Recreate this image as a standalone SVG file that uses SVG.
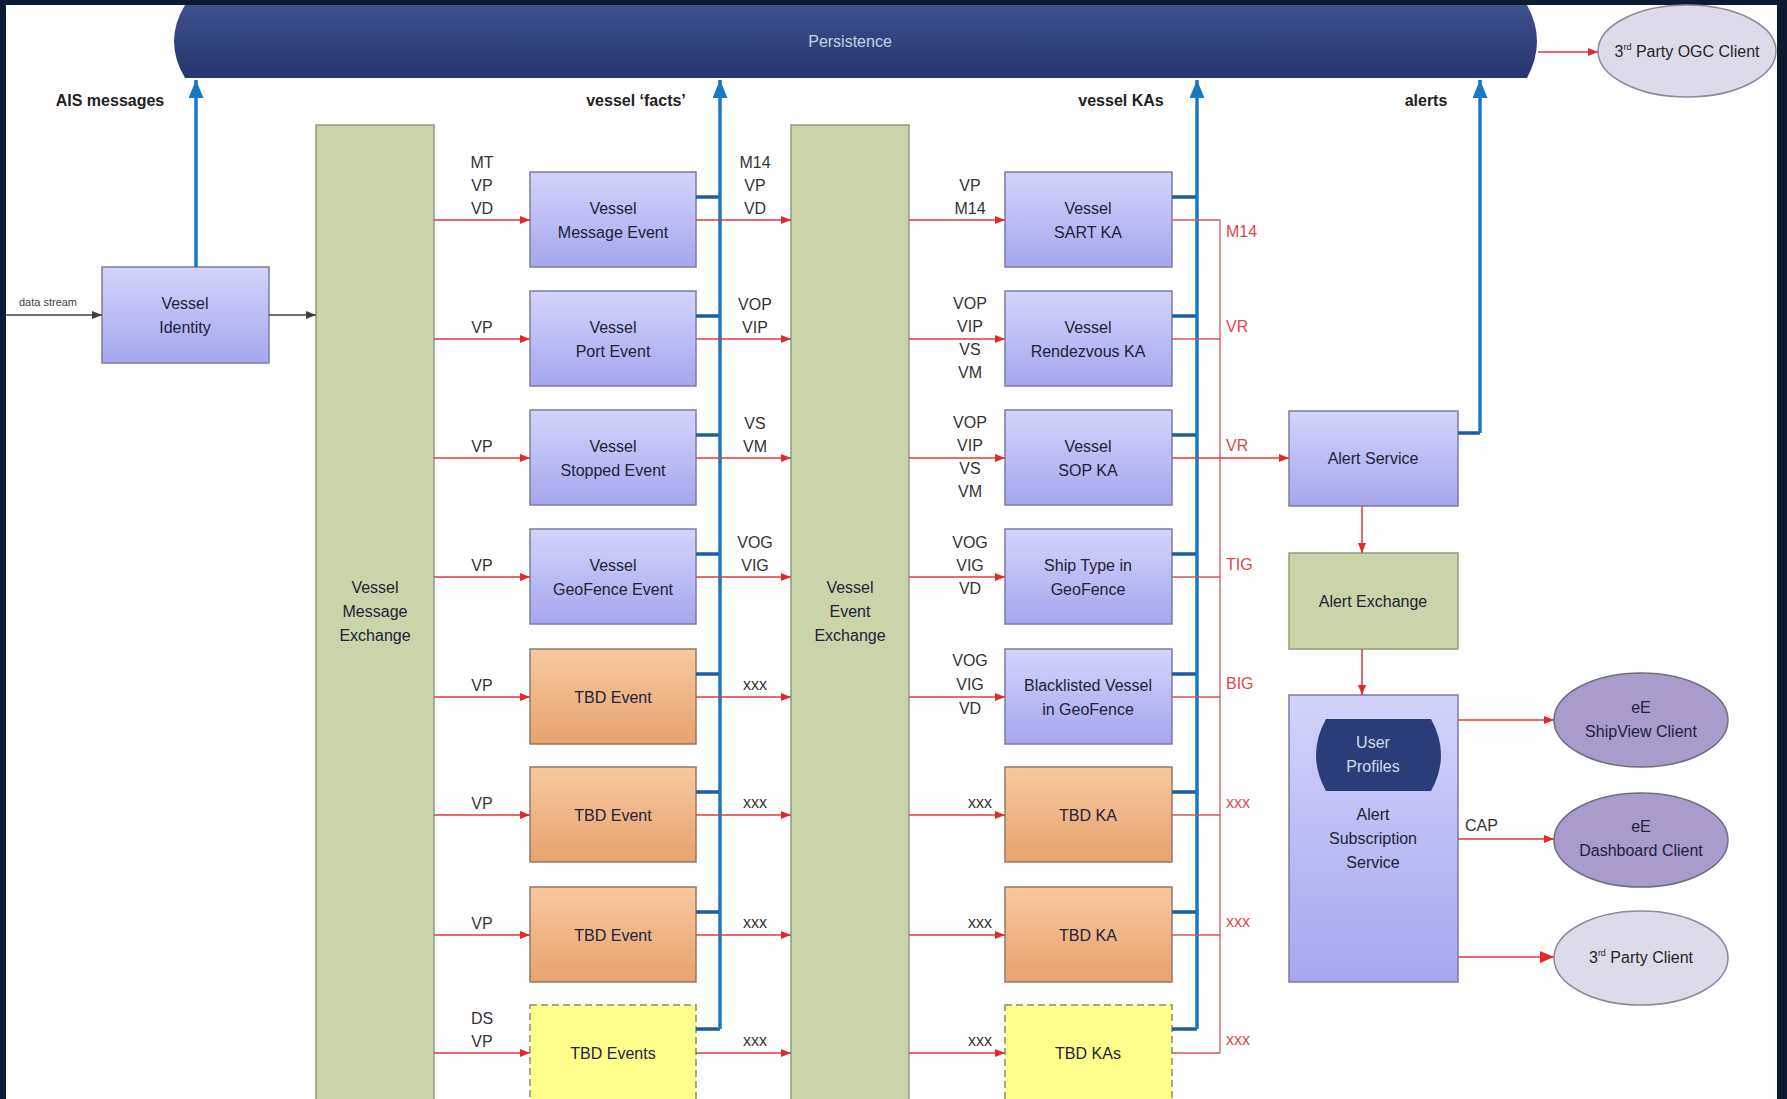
<svg xmlns="http://www.w3.org/2000/svg" width="1787" height="1099" viewBox="0 0 1787 1099">
<defs>
  <linearGradient id="lav" x1="0" y1="0" x2="0" y2="1">
    <stop offset="0" stop-color="#d3d3fd"/>
    <stop offset="1" stop-color="#a6a6ee"/>
  </linearGradient>
  <linearGradient id="org" x1="0" y1="0" x2="0" y2="1">
    <stop offset="0" stop-color="#f7c89e"/>
    <stop offset="1" stop-color="#e8a26e"/>
  </linearGradient>
  <linearGradient id="pers" x1="0" y1="0" x2="0" y2="1">
    <stop offset="0" stop-color="#3e4f8d"/>
    <stop offset="1" stop-color="#27366f"/>
  </linearGradient>
  <marker id="ar" viewBox="0 0 10 8" refX="10" refY="4" markerWidth="10" markerHeight="8" markerUnits="userSpaceOnUse" orient="auto">
    <path d="M0,0 L10,4 L0,8 z" fill="#e02a2a"/>
  </marker>
  <marker id="arBig" viewBox="0 0 14 12" refX="14" refY="6" markerWidth="14" markerHeight="12" markerUnits="userSpaceOnUse" orient="auto">
    <path d="M0,0 L14,6 L0,12 z" fill="#e02a2a"/>
  </marker>
  <marker id="ag" viewBox="0 0 10 8" refX="10" refY="4" markerWidth="10" markerHeight="8" markerUnits="userSpaceOnUse" orient="auto">
    <path d="M0,0 L10,4 L0,8 z" fill="#404040"/>
  </marker>
  <marker id="ab" viewBox="0 0 18 15" refX="18" refY="7.5" markerWidth="18" markerHeight="15" markerUnits="userSpaceOnUse" orient="auto">
    <path d="M0,0 L18,7.5 L0,15 z" fill="#1878c4"/>
  </marker>
</defs>
<style>
  text { font-family: "Liberation Sans", Arial, sans-serif; fill: #262626; }
  .bt { font-size: 16px; text-anchor: middle; fill: #222238; }
  .lb { font-size: 16px; text-anchor: middle; fill: #333333; }
  .rl { font-size: 16px; fill: #e0494a; }
  .hd { font-size: 16px; font-weight: bold; text-anchor: middle; fill: #222222; }
  .lav { fill: url(#lav); stroke: #7c7c9c; stroke-width: 1.5; }
  .grn { fill: #c9d5a9; stroke: #8e9c80; stroke-width: 1.5; }
  .org { fill: url(#org); stroke: #8e7a6a; stroke-width: 1.5; }
  .yel { fill: #ffff8c; stroke: #8f8f5a; stroke-width: 1.5; stroke-dasharray: 7 4; }
  .red { stroke: #e23b3b; stroke-width: 1.5; fill: none; }
  .redo { stroke: #d25a5a; stroke-width: 1.3; fill: none; }
  .blue { stroke: #1878c4; stroke-width: 3.5; fill: none; }
  .stub { stroke: #1d5d9a; stroke-width: 3.5; fill: none; }
  .gray { stroke: #404040; stroke-width: 1.3; fill: none; }
  .ell1 { fill: #dddbea; stroke: #8a8a9a; stroke-width: 1.5; }
  .ell2 { fill: #a99ccc; stroke: #6f6f82; stroke-width: 1.5; }
</style>

<rect x="0" y="0" width="1787" height="1099" fill="#0c1a33"/>
<rect x="6" y="5" width="1771" height="1094" fill="#ffffff"/>

<!-- Persistence -->
<g id="persistence">
  <path d="M185,5 H1527 Q1547,41 1527,78 H185 Q163,41 185,5 Z" fill="url(#pers)"/>
  <text x="850" y="47" style="font-size:16px;text-anchor:middle;fill:#c9d1ea">Persistence</text>
</g>

<!-- headings -->
<g id="headings">
  <text class="hd" x="110" y="106">AIS messages</text>
  <text class="hd" x="636" y="106">vessel ‘facts’</text>
  <text class="hd" x="1121" y="106">vessel KAs</text>
  <text class="hd" x="1426" y="106">alerts</text>
</g>

<g id="ogc-client">
  <ellipse class="ell1" cx="1687" cy="51" rx="89" ry="46"/>
  <text x="1687" y="57" style="font-size:16px;text-anchor:middle">3<tspan font-size="9" dy="-7">rd</tspan><tspan dy="7"> Party OGC Client</tspan></text>
</g>

<g id="vessel-identity">
  <rect class="lav" x="102" y="267" width="167" height="96"/>
  <text class="bt" x="185" y="309">Vessel</text>
  <text class="bt" x="185" y="333">Identity</text>
</g>

<g id="vessel-message-exchange">
  <rect class="grn" x="316" y="125" width="118" height="990"/>
  <text class="bt" x="375" y="593">Vessel</text>
  <text class="bt" x="375" y="617">Message</text>
  <text class="bt" x="375" y="641">Exchange</text>
</g>

<g id="vessel-event-exchange">
  <rect class="grn" x="791" y="125" width="118" height="990"/>
  <text class="bt" x="850" y="593">Vessel</text>
  <text class="bt" x="850" y="617">Event</text>
  <text class="bt" x="850" y="641">Exchange</text>
</g>

<!-- Event boxes -->
<g id="ev1"><rect class="lav" x="530" y="172" width="166" height="95"/><text class="bt" x="613" y="214">Vessel</text><text class="bt" x="613" y="238">Message Event</text></g>
<g id="ev2"><rect class="lav" x="530" y="291" width="166" height="95"/><text class="bt" x="613" y="333">Vessel</text><text class="bt" x="613" y="357">Port Event</text></g>
<g id="ev3"><rect class="lav" x="530" y="410" width="166" height="95"/><text class="bt" x="613" y="452">Vessel</text><text class="bt" x="613" y="476">Stopped Event</text></g>
<g id="ev4"><rect class="lav" x="530" y="529" width="166" height="95"/><text class="bt" x="613" y="571">Vessel</text><text class="bt" x="613" y="595">GeoFence Event</text></g>
<g id="ev5"><rect class="org" x="530" y="649" width="166" height="95"/><text class="bt" x="613" y="703">TBD Event</text></g>
<g id="ev6"><rect class="org" x="530" y="767" width="166" height="95"/><text class="bt" x="613" y="821">TBD Event</text></g>
<g id="ev7"><rect class="org" x="530" y="887" width="166" height="95"/><text class="bt" x="613" y="941">TBD Event</text></g>
<g id="ev8"><rect class="yel" x="530" y="1005" width="166" height="100"/><text class="bt" x="613" y="1059">TBD Events</text></g>

<!-- KA boxes -->
<g id="ka1"><rect class="lav" x="1005" y="172" width="167" height="95"/><text class="bt" x="1088" y="214">Vessel</text><text class="bt" x="1088" y="238">SART KA</text></g>
<g id="ka2"><rect class="lav" x="1005" y="291" width="167" height="95"/><text class="bt" x="1088" y="333">Vessel</text><text class="bt" x="1088" y="357">Rendezvous KA</text></g>
<g id="ka3"><rect class="lav" x="1005" y="410" width="167" height="95"/><text class="bt" x="1088" y="452">Vessel</text><text class="bt" x="1088" y="476">SOP KA</text></g>
<g id="ka4"><rect class="lav" x="1005" y="529" width="167" height="95"/><text class="bt" x="1088" y="571">Ship Type in</text><text class="bt" x="1088" y="595">GeoFence</text></g>
<g id="ka5"><rect class="lav" x="1005" y="649" width="167" height="95"/><text class="bt" x="1088" y="691">Blacklisted Vessel</text><text class="bt" x="1088" y="715">in GeoFence</text></g>
<g id="ka6"><rect class="org" x="1005" y="767" width="167" height="95"/><text class="bt" x="1088" y="821">TBD KA</text></g>
<g id="ka7"><rect class="org" x="1005" y="887" width="167" height="95"/><text class="bt" x="1088" y="941">TBD KA</text></g>
<g id="ka8"><rect class="yel" x="1005" y="1005" width="167" height="100"/><text class="bt" x="1088" y="1059">TBD KAs</text></g>

<!-- Alert side -->
<g id="alert-service"><rect class="lav" x="1289" y="411" width="169" height="95"/><text class="bt" x="1373" y="464">Alert Service</text></g>
<g id="alert-exchange"><rect class="grn" x="1289" y="553" width="169" height="96"/><text class="bt" x="1373" y="607">Alert Exchange</text></g>
<g id="alert-subscription-service">
  <rect class="lav" x="1289" y="695" width="169" height="287"/>
  <text class="bt" x="1373" y="820">Alert</text>
  <text class="bt" x="1373" y="844">Subscription</text>
  <text class="bt" x="1373" y="868">Service</text>
</g>
<g id="user-profiles">
  <path d="M1326,719 H1431 Q1451,755 1431,791 H1326 Q1306,755 1326,719 Z" fill="#2c3c78"/>
  <text x="1373" y="748" style="font-size:16px;text-anchor:middle;fill:#d4dbf2">User</text>
  <text x="1373" y="772" style="font-size:16px;text-anchor:middle;fill:#d4dbf2">Profiles</text>
</g>
<g id="shipview-client">
  <ellipse class="ell2" cx="1641" cy="720" rx="87" ry="47"/>
  <text class="bt" x="1641" y="713">eE</text>
  <text class="bt" x="1641" y="737">ShipView Client</text>
</g>
<g id="dashboard-client">
  <ellipse class="ell2" cx="1641" cy="840" rx="87" ry="47"/>
  <text class="bt" x="1641" y="832">eE</text>
  <text class="bt" x="1641" y="856">Dashboard Client</text>
</g>
<g id="third-party-client">
  <ellipse class="ell1" cx="1641" cy="958" rx="87" ry="47"/>
  <text x="1641" y="963" style="font-size:16px;text-anchor:middle">3<tspan font-size="9" dy="-7">rd</tspan><tspan dy="7"> Party Client</tspan></text>
</g>

<!-- Connectors -->
<g id="connectors">
  <!-- gray input -->
  <path class="gray" d="M6,315 H102" marker-end="url(#ag)"/>
  <path class="gray" d="M269,315 H316" marker-end="url(#ag)"/>
  <text x="48" y="306" style="font-size:11px;text-anchor:middle;fill:#444">data stream</text>

  <!-- blue buses -->
  <path class="blue" d="M196,267 V80" marker-end="url(#ab)"/>
  <path class="stub" d="M696,197 H720 M696,316 H720 M696,435 H720 M696,554 H720 M696,674 H720 M696,792 H720 M696,912 H720"/>
  <path class="stub" d="M696,1029 H720"/>
  <path class="blue" d="M720,1029 V80" marker-end="url(#ab)"/>
  <path class="stub" d="M1172,197 H1197 M1172,316 H1197 M1172,435 H1197 M1172,554 H1197 M1172,674 H1197 M1172,792 H1197 M1172,912 H1197"/>
  <path class="stub" d="M1172,1029 H1197"/>
  <path class="blue" d="M1197,1029 V80" marker-end="url(#ab)"/>
  <path class="stub" d="M1458,433 H1480"/>
  <path class="blue" d="M1480,433 V80" marker-end="url(#ab)"/>

  <!-- red: exchange -> events -->
  <path class="red" d="M434,220 H530" marker-end="url(#ar)"/>
  <path class="red" d="M434,339 H530" marker-end="url(#ar)"/>
  <path class="red" d="M434,458 H530" marker-end="url(#ar)"/>
  <path class="red" d="M434,577 H530" marker-end="url(#ar)"/>
  <path class="red" d="M434,697 H530" marker-end="url(#ar)"/>
  <path class="red" d="M434,815 H530" marker-end="url(#ar)"/>
  <path class="red" d="M434,935 H530" marker-end="url(#ar)"/>
  <path class="red" d="M434,1053 H530" marker-end="url(#ar)"/>

  <!-- red: events -> event exchange -->
  <path class="red" d="M696,220 H791" marker-end="url(#ar)"/>
  <path class="red" d="M696,339 H791" marker-end="url(#ar)"/>
  <path class="red" d="M696,458 H791" marker-end="url(#ar)"/>
  <path class="red" d="M696,577 H791" marker-end="url(#ar)"/>
  <path class="red" d="M696,697 H791" marker-end="url(#ar)"/>
  <path class="red" d="M696,815 H791" marker-end="url(#ar)"/>
  <path class="red" d="M696,935 H791" marker-end="url(#ar)"/>
  <path class="red" d="M696,1053 H791" marker-end="url(#ar)"/>

  <!-- red: event exchange -> KAs -->
  <path class="red" d="M909,220 H1005" marker-end="url(#ar)"/>
  <path class="red" d="M909,339 H1005" marker-end="url(#ar)"/>
  <path class="red" d="M909,458 H1005" marker-end="url(#ar)"/>
  <path class="red" d="M909,577 H1005" marker-end="url(#ar)"/>
  <path class="red" d="M909,697 H1005" marker-end="url(#ar)"/>
  <path class="red" d="M909,815 H1005" marker-end="url(#ar)"/>
  <path class="red" d="M909,935 H1005" marker-end="url(#ar)"/>
  <path class="red" d="M909,1053 H1005" marker-end="url(#ar)"/>

  <!-- red: KAs -> alert bus -->
  <path class="redo" d="M1172,220 H1220 V1053 M1172,339 H1220 M1172,577 H1220 M1172,697 H1220 M1172,815 H1220 M1172,935 H1220 M1172,1053 H1220"/>
  <path class="red" d="M1172,458 H1289" marker-end="url(#ar)"/>

  <!-- alert chain -->
  <path class="red" d="M1362,506 V553" marker-end="url(#ar)"/>
  <path class="red" d="M1362,649 V695" marker-end="url(#ar)"/>
  <path class="red" d="M1458,720 H1554" marker-end="url(#ar)"/>
  <path class="red" d="M1458,839 H1554" marker-end="url(#ar)"/>
  <path class="red" d="M1458,957 H1554" marker-end="url(#arBig)"/>
  <path class="red" d="M1538,52 H1598" marker-end="url(#ar)"/>
</g>

<!-- connector labels -->
<g id="labels">
  <text class="lb" x="482" y="168">MT</text><text class="lb" x="482" y="191">VP</text><text class="lb" x="482" y="214">VD</text>
  <text class="lb" x="482" y="333">VP</text>
  <text class="lb" x="482" y="452">VP</text>
  <text class="lb" x="482" y="571">VP</text>
  <text class="lb" x="482" y="691">VP</text>
  <text class="lb" x="482" y="809">VP</text>
  <text class="lb" x="482" y="929">VP</text>
  <text class="lb" x="482" y="1024">DS</text><text class="lb" x="482" y="1047">VP</text>

  <text class="lb" x="755" y="168">M14</text><text class="lb" x="755" y="191">VP</text><text class="lb" x="755" y="214">VD</text>
  <text class="lb" x="755" y="310">VOP</text><text class="lb" x="755" y="333">VIP</text>
  <text class="lb" x="755" y="429">VS</text><text class="lb" x="755" y="452">VM</text>
  <text class="lb" x="755" y="548">VOG</text><text class="lb" x="755" y="571">VIG</text>
  <text class="lb" x="755" y="690">xxx</text>
  <text class="lb" x="755" y="808">xxx</text>
  <text class="lb" x="755" y="928">xxx</text>
  <text class="lb" x="755" y="1046">xxx</text>

  <text class="lb" x="970" y="191">VP</text><text class="lb" x="970" y="214">M14</text>
  <text class="lb" x="970" y="309">VOP</text><text class="lb" x="970" y="332">VIP</text><text class="lb" x="970" y="355">VS</text><text class="lb" x="970" y="378">VM</text>
  <text class="lb" x="970" y="428">VOP</text><text class="lb" x="970" y="451">VIP</text><text class="lb" x="970" y="474">VS</text><text class="lb" x="970" y="497">VM</text>
  <text class="lb" x="970" y="548">VOG</text><text class="lb" x="970" y="571">VIG</text><text class="lb" x="970" y="594">VD</text>
  <text class="lb" x="970" y="666">VOG</text><text class="lb" x="970" y="690">VIG</text><text class="lb" x="970" y="714">VD</text>
  <text class="lb" x="980" y="808">xxx</text>
  <text class="lb" x="980" y="928">xxx</text>
  <text class="lb" x="980" y="1046">xxx</text>

  <text class="rl" x="1226" y="237">M14</text>
  <text class="rl" x="1226" y="332">VR</text>
  <text class="rl" x="1226" y="451">VR</text>
  <text class="rl" x="1226" y="570">TIG</text>
  <text class="rl" x="1226" y="689">BIG</text>
  <text class="rl" x="1226" y="808">xxx</text>
  <text class="rl" x="1226" y="927">xxx</text>
  <text class="rl" x="1226" y="1045">xxx</text>

  <text style="font-size:16px;fill:#333" x="1465" y="831">CAP</text>
</g>
</svg>
